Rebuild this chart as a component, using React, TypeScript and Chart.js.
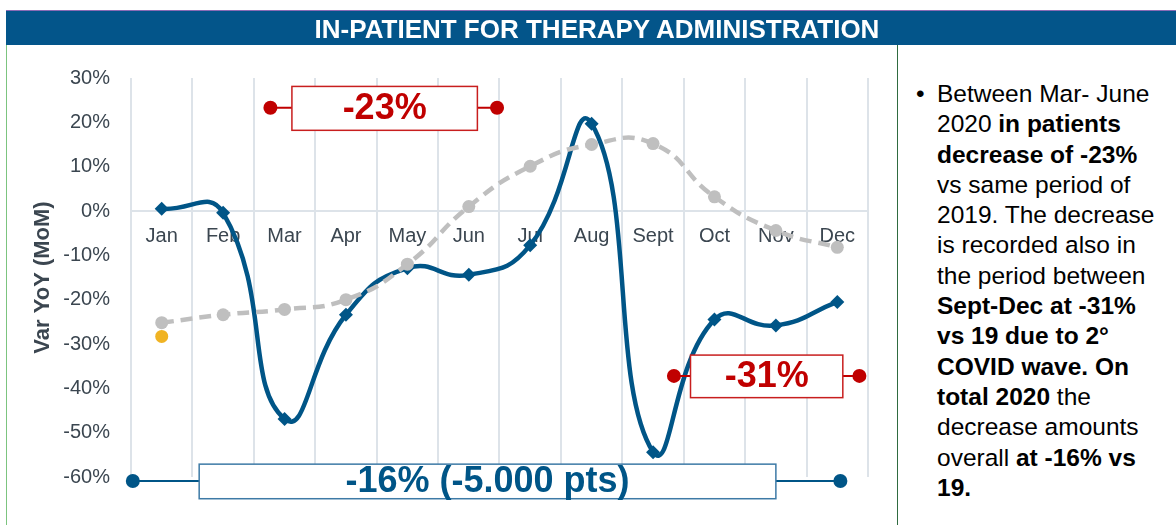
import React, { useEffect, useRef } from "react";
import { Chart, registerables } from "chart.js";

Chart.register(...registerables);

// ---------- data ----------
const months = ["Jan", "Feb", "Mar", "Apr", "May", "Jun", "Jul", "Aug", "Sept", "Oct", "Nov", "Dec"];
const var2020 = [0.5, -0.4, -46.9, -23.4, -12.9, -14.4, -7.7, 19.7, -54.4, -24.5, -25.8, -20.5];
const var2019 = [-25.2, -23.4, -22.2, -20, -12, 1, 10.1, 15, 15.2, 3.2, -4.4, -8.2];
const janMarker = [-28.3, null, null, null, null, null, null, null, null, null, null, null];
const yMin = -60;
const yMax = 30;
const yStep = 10;

// span annotations (x in category index units, y in % units)
const annLabels = ["-23%", "-31%", "-16% (-5.000 pts)"];
const annY = [23.3, -37.2, -60.9];
const annDotFrom = [1.77, 8.34, -0.47];
const annDotTo = [5.46, 11.36, 11.05];
const annBoxFrom = [2.12, 8.61, 0.61];
const annBoxTo = [5.14, 11.09, 10.0];
const annBoxTop = [28.1, -32.5, -57.1];
const annBoxBottom = [18.2, -42.1, -64.9];
const annColors = ["#c00000", "#c00000", "#005587"];
const annBorderColors = ["#c81e1e", "#c81e1e", "#3d7aa6"];

const FONT = "'Liberation Sans', Arial, sans-serif";
const BLUE = "#005587";
const GRAY = "#bfbfbf";
const YELLOW = "#f0b323";
const GRID = "#dde3e9";
const TEXT = "#3b4650";

const spanPlugin = {
  id: "spanAnnotations",
  afterDatasetsDraw(chart: any) {
    const { ctx } = chart;
    const x = chart.scales.x;
    const y = chart.scales.y;
    ctx.save();
    for (let i = 0; i < annLabels.length; i++) {
      const yc = y.getPixelForValue(annY[i]);
      const d1 = x.getPixelForValue(annDotFrom[i]);
      const d2 = x.getPixelForValue(annDotTo[i]);
      const b1 = x.getPixelForValue(annBoxFrom[i]);
      const b2 = x.getPixelForValue(annBoxTo[i]);
      const bt = y.getPixelForValue(annBoxTop[i]);
      const bb = y.getPixelForValue(annBoxBottom[i]);
      const col = annColors[i];
      ctx.strokeStyle = col;
      ctx.lineWidth = 2;
      ctx.beginPath();
      ctx.moveTo(d1, yc);
      ctx.lineTo(b1, yc);
      ctx.moveTo(b2, yc);
      ctx.lineTo(d2, yc);
      ctx.stroke();
      ctx.fillStyle = col;
      for (const dx of [d1, d2]) {
        ctx.beginPath();
        ctx.arc(dx, yc, 7, 0, Math.PI * 2);
        ctx.fill();
      }
      ctx.fillStyle = "#ffffff";
      ctx.fillRect(b1, bt, b2 - b1, bb - bt);
      ctx.strokeStyle = annBorderColors[i];
      ctx.lineWidth = 1.5;
      ctx.strokeRect(b1, bt, b2 - b1, bb - bt);
      ctx.fillStyle = col;
      ctx.font = `bold 36px ${FONT}`;
      ctx.textAlign = "center";
      ctx.textBaseline = "middle";
      ctx.fillText(annLabels[i], (b1 + b2) / 2, (bt + bb) / 2 + 1);
    }
    ctx.restore();
  },
};

function ChartPanel() {
  const ref = useRef<HTMLCanvasElement | null>(null);
  useEffect(() => {
    if (!ref.current) return;
    const chart = new Chart(ref.current, {
      type: "line",
      data: {
        labels: months,
        datasets: [
          {
            label: "2019",
            data: var2019,
            borderColor: GRAY,
            backgroundColor: GRAY,
            borderWidth: 4.5,
            borderDash: [12, 7],
            tension: 0.5,
            pointRadius: 6.5,
            pointBorderWidth: 0,
            pointBackgroundColor: GRAY,
            order: 1,
          },
          {
            label: "2020",
            data: var2020,
            borderColor: BLUE,
            backgroundColor: BLUE,
            borderWidth: 4.5,
            tension: 0.5,
            pointStyle: "rectRot",
            pointRadius: 7,
            pointBorderWidth: 0,
            pointBackgroundColor: BLUE,
            order: 2,
          },
          {
            label: "Jan marker",
            data: janMarker,
            showLine: false,
            pointRadius: 6.5,
            pointBorderWidth: 0,
            pointBackgroundColor: YELLOW,
            backgroundColor: YELLOW,
            borderColor: YELLOW,
            order: 0,
          },
        ],
      },
      options: {
        animation: false,
        responsive: false,
        maintainAspectRatio: false,
        layout: { padding: { left: 0, right: 29, top: 28, bottom: 48 } },
        plugins: {
          legend: { display: false },
          tooltip: { enabled: false },
        },
        scales: {
          x: {
            type: "category",
            offset: true,
            position: { y: 0 } as any,
            grid: { display: true, offset: true, color: GRID, lineWidth: 2, drawTicks: false },
            border: { display: true, color: GRID, width: 2 },
            ticks: {
              color: TEXT,
              font: { size: 20, family: FONT },
              padding: 13,
              maxRotation: 0,
              autoSkip: false,
            },
          },
          y: {
            min: yMin,
            max: yMax,
            ticks: {
              stepSize: yStep,
              callback: (v: any) => `${v}%`,
              color: TEXT,
              font: { size: 20, family: FONT },
              padding: 21,
            },
            grid: { display: false, drawTicks: false },
            border: { display: false },
            title: {
              display: true,
              text: "Var YoY (MoM)",
              color: TEXT,
              font: { size: 22, weight: "bold", family: FONT },
              padding: { top: 30, bottom: 0 },
            },
            afterFit(scale: any) {
              scale.width = 131;
            },
          },
        },
      },
      plugins: [spanPlugin],
    } as any);
    return () => chart.destroy();
  }, []);
  return (
    <canvas
      ref={ref}
      width={897}
      height={480}
      style={{ position: "absolute", left: 0, top: 45, width: 897, height: 480 }}
    />
  );
}

export default function App() {
  const B = ({ children }: { children: React.ReactNode }) => <b>{children}</b>;
  const lines: React.ReactNode[] = [
    <>Between Mar- June</>,
    <>2020 <B>in patients</B></>,
    <B>decrease of -23%</B>,
    <>vs same period of</>,
    <>2019. The decrease</>,
    <>is recorded also in</>,
    <>the period between</>,
    <B>Sept-Dec at -31%</B>,
    <B>vs 19 due to 2°</B>,
    <B>COVID wave. On</B>,
    <><B>total 2020</B> the</>,
    <>decrease amounts</>,
    <>overall <B>at -16% vs</B></>,
    <B>19.</B>,
  ];
  return (
    <div
      style={{
        position: "absolute",
        left: 0,
        top: 0,
        width: 1176,
        height: 525,
        background: "#ffffff",
        overflow: "hidden",
        fontFamily: FONT,
      }}
    >
      <ChartPanel />
      <div
        style={{
          position: "absolute",
          left: 6,
          top: 10,
          width: 1170,
          height: 35,
          background: "#03558a",
          borderTop: "1px solid #8a6bb5",
          boxSizing: "border-box",
        }}
      />
      <div
        style={{
          position: "absolute",
          left: 597,
          top: 12,
          transform: "translateX(-50%)",
          whiteSpace: "nowrap",
          color: "#ffffff",
          fontWeight: "bold",
          fontSize: 26,
          lineHeight: "35px",
        }}
      >
        IN-PATIENT FOR THERAPY ADMINISTRATION
      </div>
      <div style={{ position: "absolute", left: 6, top: 45, width: 1, height: 480, background: "#7cc47f" }} />
      <div style={{ position: "absolute", left: 897, top: 45, width: 1, height: 480, background: "#2f6b40" }} />
      <div
        style={{
          position: "absolute",
          left: 916,
          top: 79,
          fontSize: 24.5,
          lineHeight: "30.3px",
          color: "#000000",
        }}
      >
        •
      </div>
      <div
        style={{
          position: "absolute",
          left: 937,
          top: 79,
          fontSize: 24.5,
          lineHeight: "30.3px",
          color: "#000000",
          whiteSpace: "nowrap",
        }}
      >
        {lines.map((l, i) => (
          <div key={i}>{l}</div>
        ))}
      </div>
    </div>
  );
}
